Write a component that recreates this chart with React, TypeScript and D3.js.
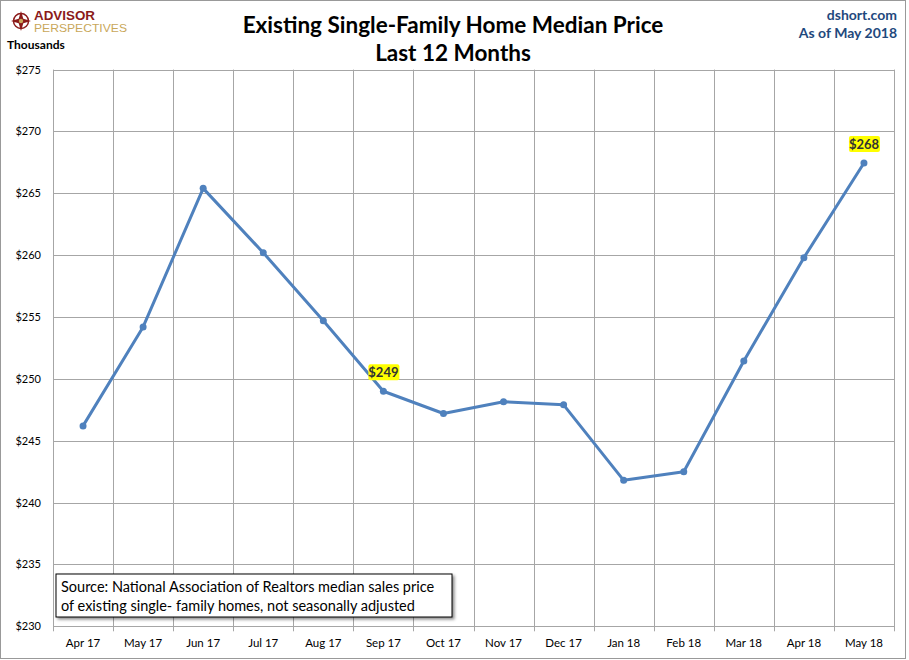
import React from "react";
import * as d3 from "d3";

const months = ["Apr 17","May 17","Jun 17","Jul 17","Aug 17","Sep 17","Oct 17","Nov 17","Dec 17","Jan 18","Feb 18","Mar 18","Apr 18","May 18"];
const prices = [246.2, 254.2, 265.4, 260.2, 254.7, 249.0, 247.2, 248.15, 247.9, 241.8, 242.5, 251.45, 259.8, 267.45];
const yTicks = [230, 235, 240, 245, 250, 255, 260, 265, 270, 275];
const labeled = [{ month: "Sep 17", text: "$249" }, { month: "May 18", text: "$268" }];

const W = 909, H = 660;
const left = 53, right = 894, top = 69.6, bottom = 626.3;
const FONT = "Lato, 'Open Sans', sans-serif";

export default function App() {
  const x = d3.scaleBand().domain(months).range([left, right]);
  const y = d3.scaleLinear().domain([230, 275]).range([bottom, top]);
  const cx = (m: string) => (x(m) as number) + x.bandwidth() / 2;
  const line = d3.line<number>().x((_, i) => cx(months[i])).y(d => y(d));
  const grid = "#A6A6A6";
  return (
    <svg width={W} height={H} style={{ position: "absolute", left: 0, top: 0 }} fontFamily={FONT}>
      <defs>
        <filter id="sh" x="-5%" y="-20%" width="115%" height="160%">
          <feDropShadow dx="2" dy="2" stdDeviation="1.5" floodColor="#000" floodOpacity="0.45" />
        </filter>
      </defs>
      <rect x={0} y={0} width={W} height={H} fill="#fff" />
      <rect x={0.5} y={0.5} width={905} height={658} fill="#fff" stroke="#999" />
      {/* logo */}
      <g transform="translate(21,21)">
        <circle r={7.5} fill="none" stroke="#8B1A1A" strokeWidth={1.5} />
        <path d="M0,-10 L2.3,-2.3 L10,0 L2.3,2.3 L0,10 L-2.3,2.3 L-10,0 L-2.3,-2.3 Z" fill="#8B1A1A" />
        <circle r={2.2} fill="#C9A75A" />
      </g>
      <text x={34} y={19.5} fontSize={12.5} fontWeight={700} fill="#8B1A1A" fontFamily="'Liberation Sans', Arial, sans-serif" textLength={61} lengthAdjust="spacingAndGlyphs">ADVISOR</text>
      <text x={34} y={32} fontSize={11} fill="#C9A75A" fontFamily="'Liberation Sans', Arial, sans-serif" textLength={93} lengthAdjust="spacingAndGlyphs">PERSPECTIVES</text>
      <text x={7} y={49} fontSize={12} fontWeight={700} fill="#000">Thousands</text>
      {/* title */}
      <text x={453} y={33} textAnchor="middle" fontSize={22.5} fontWeight={700} fill="#000">Existing Single-Family Home Median Price</text>
      <text x={453} y={61} textAnchor="middle" fontSize={22.5} fontWeight={700} fill="#000">Last 12 Months</text>
      <text x={897} y={20} textAnchor="end" fontSize={14} fontWeight={700} fill="#1F497D">dshort.com</text>
      <text x={897} y={38} textAnchor="end" fontSize={14} fontWeight={700} fill="#1F497D">As of May 2018</text>
      {/* grid */}
      {yTicks.map(t => (
        <g key={t}>
          <line x1={left} x2={right} y1={Math.round(y(t)) + 0.5} y2={Math.round(y(t)) + 0.5} stroke={grid} />
          <text x={41} y={y(t) + 4} textAnchor="end" fontSize={11} fill="#000">${t}</text>
        </g>
      ))}
      {months.map((m) => (
        <line key={m} x1={Math.round(x(m) as number) + 0.5} x2={Math.round(x(m) as number) + 0.5} y1={top} y2={bottom + 5} stroke={grid} />
      ))}
      <line x1={right + 0.5} x2={right + 0.5} y1={top} y2={bottom + 5} stroke={grid} />
      {months.map(m => (
        <text key={m} x={cx(m)} y={647} textAnchor="middle" fontSize={11.5} fill="#000">{m}</text>
      ))}
      {/* series */}
      <path d={line(prices) as string} fill="none" stroke="#4F81BD" strokeWidth={3} strokeLinejoin="round" />
      {prices.map((p, i) => (
        <circle key={i} cx={cx(months[i])} cy={y(p)} r={3.5} fill="#4F81BD" />
      ))}
      {labeled.map(l => {
        const i = months.indexOf(l.month);
        const px = cx(l.month), py = y(prices[i]);
        return (
          <g key={l.month}>
            <rect x={px - 15} y={py - 27} width={31} height={16} fill="#FFFF00" rx={2} />
            <text x={px} y={py - 14} textAnchor="middle" fontSize={13} fontWeight={700} fill="#333">{l.text}</text>
          </g>
        );
      })}
      {/* source box */}
      <rect x={56} y={574} width={396} height={43} fill="#fff" stroke="#000" filter="url(#sh)" />
      <text x={61} y={592} fontSize={14.5} fill="#000">Source: National Association of Realtors median sales price</text>
      <text x={61} y={611} fontSize={14.5} fill="#000">of existing single- family homes, not seasonally adjusted</text>
    </svg>
  );
}
